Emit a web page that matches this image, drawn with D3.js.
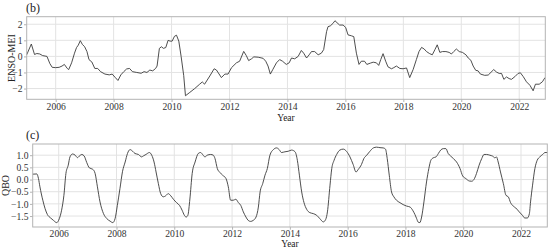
<!DOCTYPE html>
<html>
  <head>
    <meta charset="utf-8" />
    <title>ENSO-MEI and QBO</title>
    <script src="https://d3js.org/d3.v7.min.js"></script>
    <style>
      body { margin: 0; background: #fff; }
      svg text { font-family: "Liberation Serif", "DejaVu Serif", serif; fill: #222; }
      .grid line { stroke: #e3e3e3; stroke-width: 1; }
      .frame { fill: none; stroke: #b3b3b3; stroke-width: 1; }
      .axis path { display: none; }
      .axis line { stroke: #b3b3b3; }
      .axis text { font-size: 9.6px; fill: #333; }
      .series { fill: none; stroke: #3a3a3a; stroke-width: 0.9; }
    </style>
  </head>
  <body>
    <svg width="550" height="250"></svg>
    <script>
      // ENSO-MEI (decimal year, index value)
      const ensoYears = [
        2005.0, 2005.16, 2005.27, 2005.35, 2005.45, 2005.55, 2005.7, 2005.8, 2005.88,
        2006.0, 2006.12, 2006.22, 2006.3, 2006.4, 2006.45, 2006.55, 2006.65, 2006.72,
        2006.78, 2006.85, 2006.92, 2007.0, 2007.08, 2007.15, 2007.25, 2007.35, 2007.45,
        2007.55, 2007.7, 2007.85, 2007.95, 2008.05, 2008.15, 2008.25, 2008.35, 2008.45,
        2008.55, 2008.65, 2008.8, 2008.95, 2009.05, 2009.15, 2009.25, 2009.35, 2009.45,
        2009.5, 2009.58, 2009.65, 2009.72, 2009.8, 2009.88, 2009.95, 2010.02, 2010.1,
        2010.17, 2010.25, 2010.33, 2010.42, 2010.48, 2010.63, 2010.8, 2010.97, 2011.06,
        2011.14, 2011.32, 2011.47, 2011.55, 2011.72, 2011.84, 2011.95, 2012.07, 2012.24,
        2012.35, 2012.49, 2012.58, 2012.66, 2012.76, 2012.84, 2012.99, 2013.16, 2013.25,
        2013.33, 2013.41, 2013.5, 2013.62, 2013.73, 2013.83, 2013.96, 2014.06, 2014.14,
        2014.25, 2014.37, 2014.48, 2014.56, 2014.66, 2014.75, 2014.83, 2014.94, 2015.06,
        2015.17, 2015.25, 2015.35, 2015.4, 2015.48, 2015.57, 2015.64, 2015.71, 2015.8,
        2015.92, 2016.01, 2016.09, 2016.21, 2016.29, 2016.38, 2016.47, 2016.55, 2016.66,
        2016.74, 2016.86, 2016.96, 2017.07, 2017.15, 2017.22, 2017.3, 2017.39, 2017.47,
        2017.59, 2017.67, 2017.76, 2017.88, 2017.99, 2018.11, 2018.22, 2018.34, 2018.45,
        2018.54, 2018.63, 2018.72, 2018.8, 2018.91, 2019.0, 2019.09, 2019.17, 2019.26,
        2019.35, 2019.47, 2019.58, 2019.66, 2019.74, 2019.83, 2019.93, 2020.04, 2020.16,
        2020.24, 2020.33, 2020.41, 2020.5, 2020.58, 2020.66, 2020.81, 2020.93, 2021.12,
        2021.22, 2021.31, 2021.39, 2021.47, 2021.56, 2021.65, 2021.73, 2021.85, 2021.96,
        2022.04, 2022.14, 2022.25, 2022.37, 2022.48, 2022.56, 2022.69, 2022.8, 2022.89,
      ];
      const ensoValues = [
        0.1, 0.77, 0.12, 0.18, 0.15, 0.05, 0.0, -0.45, -0.68,
        -0.7, -0.68, -0.6, -0.5, -0.75, -0.82, -0.4, 0.2, 0.55,
        0.7, 0.98, 0.75, 0.6, 0.3, -0.2, -0.35, -0.75, -0.75,
        -0.95, -1.1, -1.15, -1.1, -1.3, -1.5, -1.15, -0.95, -0.78,
        -0.75, -0.95, -1.0, -1.05, -0.95, -1.0, -0.85, -0.9, -0.75,
        -0.6, 0.5, 0.6, 0.5, 0.55, 1.0, 0.95, 0.95, 1.25,
        1.32, 0.95, 0.0, -1.2, -2.45, -2.24, -2.0, -1.73, -1.59,
        -1.73, -1.22, -0.77, -0.85, -1.32, -1.1, -1.1, -0.7, -0.4,
        -0.3, 0.31, 0.05, -0.26, -0.15, -0.03, -0.05, -0.12, -0.3,
        -0.6, -1.1, -0.8, -0.4, -0.2, -0.3, -0.5, -0.4, -0.1,
        -0.15, 0.0, 0.37, 0.2, -0.1, 0.1, 0.3, 0.3, 0.1,
        0.2, 0.42, 1.54, 1.85, 1.9, 2.05, 2.22, 2.1, 1.95,
        1.95, 1.8, 1.34, 1.28, 1.23, 0.2, -0.5, -0.3, -0.3,
        -0.5, -0.42, -0.36, -0.4, -0.56, -0.2, 0.17, -0.3, -0.65,
        -0.77, -0.7, -0.6, -0.75, -0.77, -0.72, -1.32, -0.81, -0.2,
        0.3, 0.56, 0.46, 0.3, 0.17, 0.1, 0.42, 0.72, 0.25,
        0.3, 0.3, 0.25, 0.15, 0.3, 0.46, 0.3, 0.25, 0.1,
        -0.1, -0.24, -0.6, -0.87, -0.9, -1.1, -1.18, -1.16, -0.82,
        -0.98, -1.06, -1.06, -1.43, -1.28, -1.38, -1.43, -1.26, -1.06,
        -1.02, -1.26, -1.58, -1.8, -2.14, -1.73, -1.73, -1.58, -1.32,
      ];

      // QBO index
      const qboYears = [
        2005.1, 2005.24, 2005.3, 2005.35, 2005.45, 2005.53, 2005.61, 2005.72, 2005.82,
        2005.93, 2006.02, 2006.1, 2006.18, 2006.25, 2006.33, 2006.39, 2006.48, 2006.57,
        2006.65, 2006.72, 2006.8, 2006.88, 2006.97, 2007.06, 2007.18, 2007.26, 2007.34,
        2007.43, 2007.55, 2007.66, 2007.78, 2007.87, 2007.95, 2008.03, 2008.12, 2008.21,
        2008.3, 2008.38, 2008.47, 2008.56, 2008.64, 2008.76, 2008.87, 2008.93, 2009.02,
        2009.14, 2009.22, 2009.3, 2009.37, 2009.45, 2009.53, 2009.62, 2009.7, 2009.79,
        2009.88, 2009.97, 2010.08, 2010.18, 2010.27, 2010.35, 2010.41, 2010.47, 2010.54,
        2010.62, 2010.72, 2010.83, 2010.91, 2011.0, 2011.06, 2011.14, 2011.26, 2011.35,
        2011.41, 2011.49, 2011.58, 2011.67, 2011.79, 2011.87, 2011.95, 2012.04, 2012.13,
        2012.22, 2012.3, 2012.39, 2012.48, 2012.56, 2012.64, 2012.73, 2012.83, 2012.91,
        2012.97, 2013.06, 2013.14, 2013.22, 2013.31, 2013.43, 2013.54, 2013.63, 2013.71,
        2013.83, 2013.94, 2014.06, 2014.18, 2014.26, 2014.33, 2014.41, 2014.49, 2014.58,
        2014.69, 2014.81, 2014.93, 2015.04, 2015.16, 2015.24, 2015.3, 2015.39, 2015.45,
        2015.53, 2015.62, 2015.73, 2015.85, 2015.96, 2016.08, 2016.19, 2016.29, 2016.37,
        2016.48, 2016.56, 2016.66, 2016.77, 2016.89, 2017.0, 2017.12, 2017.23, 2017.31,
        2017.37, 2017.44, 2017.52, 2017.6, 2017.69, 2017.81, 2017.92, 2018.04, 2018.16,
        2018.25, 2018.33, 2018.39, 2018.44, 2018.5, 2018.56, 2018.64, 2018.73, 2018.81,
        2018.88, 2018.96, 2019.06, 2019.14, 2019.22, 2019.31, 2019.4, 2019.48, 2019.56,
        2019.66, 2019.77, 2019.89, 2019.98, 2020.09, 2020.21, 2020.29, 2020.37, 2020.46,
        2020.55, 2020.64, 2020.72, 2020.81, 2020.92, 2021.02, 2021.1, 2021.15, 2021.21,
        2021.29, 2021.39, 2021.48, 2021.56, 2021.64, 2021.73, 2021.82, 2021.94, 2022.05,
        2022.13, 2022.22, 2022.29, 2022.33, 2022.4, 2022.48, 2022.56, 2022.65, 2022.75,
        2022.83, 2022.91,
      ];
      const qboValues = [
        0.22, 0.23, 0.04, -0.3, -0.85, -1.2, -1.44, -1.58, -1.68,
        -1.77, -1.61, -1.26, -0.65, 0.25, 0.59, 0.93, 1.05, 1.0,
        0.9, 0.97, 1.03, 0.97, 0.7, 0.48, 0.42, 0.25, -0.3,
        -0.92, -1.4, -1.6, -1.71, -1.77, -1.61, -1.06, -0.37, 0.34,
        0.72, 1.07, 1.23, 1.16, 1.07, 1.03, 0.93, 0.97, 1.03,
        1.11, 1.0, 0.72, 0.31, -0.17, -0.58, -0.71, -0.67, -0.58,
        -0.67, -0.81, -0.95, -1.06, -1.26, -1.47, -1.54, -1.47, -0.8,
        0.25, 0.72, 1.07, 1.11, 1.0, 0.93, 1.0, 1.03, 1.0,
        0.86, 0.45, 0.29, 0.18, 0.04, -0.3, -0.85, -0.85, -0.81,
        -0.95, -1.06, -1.33, -1.54, -1.68, -1.72, -1.68, -1.54, -1.13,
        -0.51, -0.17, 0.18, 0.45, 1.0, 1.23, 1.3, 1.23, 1.11,
        1.14, 1.16, 1.21, 1.14, 0.79, 0.18, -0.51, -0.95, -1.22,
        -1.36, -1.4, -1.47, -1.61, -1.74, -1.64, -1.33, -0.23, 0.45,
        0.79, 1.03, 1.21, 1.25, 1.16, 0.93, 0.62, 0.31, 0.42,
        0.62, 0.86, 1.0, 1.16, 1.3, 1.33, 1.31, 1.3, 1.25,
        0.86, 0.18, -0.51, -0.71, -0.85, -0.95, -1.03, -1.09, -1.13,
        -1.26, -1.44, -1.61, -1.75, -1.77, -1.54, -0.92, -0.1, 0.45,
        0.79, 0.89, 0.93, 1.07, 1.21, 1.27, 1.27, 1.07, 0.97,
        0.86, 0.72, 0.45, 0.15, 0.04, -0.06, -0.07, 0.0, 0.25,
        0.59, 0.86, 1.03, 1.03, 1.0, 0.96, 0.89, 0.93, 0.72,
        0.31, -0.17, -0.65, -0.71, -0.95, -1.09, -1.17, -1.33, -1.47,
        -1.58, -1.58, -1.4, -0.92, -0.23, 0.45, 0.79, 0.93, 1.03,
        1.11, 1.11,
      ];

      const yearTicks = [2006, 2008, 2010, 2012, 2014, 2016, 2018, 2020, 2022];
      const ensoTicks = [-2, -1, 0, 1, 2];
      const qboTicks = [-1.5, -1.0, -0.5, 0.0, 0.5, 1.0];

      const svg = d3.select("svg");

      // one panel = frame, grid, axes, line and labels
      function panel(opts) {
        const { left, right, top, bottom } = opts.box;
        const x = d3.scaleLinear().domain(opts.xDomain).range([left, right]);
        const y = d3.scaleLinear().domain(opts.yDomain).range([bottom, top]);
        const g = svg.append("g");

        // grid
        const grid = g.append("g").attr("class", "grid");
        grid.selectAll(".gx")
          .data(yearTicks)
          .join("line")
          .attr("x1", (d) => x(d)).attr("x2", (d) => x(d))
          .attr("y1", top).attr("y2", bottom);
        grid.selectAll(".gy")
          .data(opts.yTicks)
          .join("line")
          .attr("class", "gy")
          .attr("x1", left).attr("x2", right)
          .attr("y1", (d) => y(d)).attr("y2", (d) => y(d));

        // axes
        g.append("g")
          .attr("class", "axis")
          .attr("transform", "translate(0," + bottom + ")")
          .call(d3.axisBottom(x).tickValues(yearTicks).tickFormat(d3.format("d"))
            .tickSize(2.7).tickPadding(opts.xPad));
        g.append("g")
          .attr("class", "axis")
          .attr("transform", "translate(" + left + ",0)")
          .call(d3.axisLeft(y).tickValues(opts.yTicks).tickFormat(opts.yFormat)
            .tickSize(2.7).tickPadding(1.5))
          .selectAll("text").attr("dy", "0.34em");

        // series
        const line = d3.line()
          .x((d, i) => x(opts.xs[i]))
          .y((d) => y(d))
          .curve(opts.curve);
        g.append("path")
          .datum(opts.ys)
          .attr("class", "series")
          .attr("d", line);

        g.append("rect")
          .attr("class", "frame")
          .attr("x", left).attr("y", top)
          .attr("width", right - left).attr("height", bottom - top);

        // titles
        g.append("text")
          .attr("x", (left + right) / 2)
          .attr("y", opts.xTitleY)
          .attr("text-anchor", "middle")
          .style("font-size", "9.5px")
          .text("Year");
        g.append("text")
          .attr("transform", "translate(" + opts.yTitleX + "," + (top + bottom) / 2 + ") rotate(-90)")
          .attr("text-anchor", "middle")
          .style("font-size", "10px")
          .text(opts.yTitle);
        g.append("text")
          .attr("x", 26)
          .attr("y", opts.tagY)
          .style("font-size", "12px")
          .text(opts.tag);
      }

      panel({
        box: { left: 26.7, right: 545.3, top: 16.7, bottom: 99.3 },
        xDomain: [2005.0, 2022.9],
        yDomain: [-2.67, 2.47],
        yTicks: ensoTicks,
        yFormat: d3.format("d"),
        xs: ensoYears,
        ys: ensoValues,
        curve: d3.curveLinear,
        xPad: 1.5,
        xTitleY: 121,
        yTitle: "ENSO-MEI",
        yTitleX: 15,
        tag: "(b)",
        tagY: 12,
      });

      panel({
        box: { left: 32.7, right: 547.3, top: 144, bottom: 227 },
        xDomain: [2005.1, 2022.91],
        yDomain: [-1.95, 1.46],
        yTicks: qboTicks,
        yFormat: d3.format(".1f"),
        xs: qboYears,
        ys: qboValues,
        curve: d3.curveMonotoneX,
        xPad: 0.2,
        xTitleY: 247.3,
        yTitle: "QBO",
        yTitleX: 8.5,
        tag: "(c)",
        tagY: 139,
      });
    </script>
  </body>
</html>
